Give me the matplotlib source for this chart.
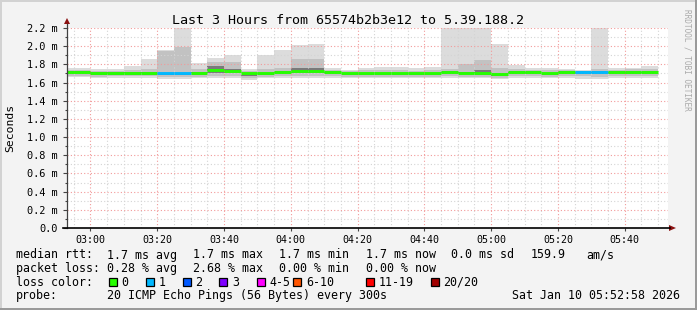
import numpy as np
import pandas as pd
import matplotlib
matplotlib.use("Agg")
import matplotlib.pyplot as plt
import matplotlib.dates as mdates
from matplotlib.ticker import MultipleLocator, FuncFormatter
from matplotlib.patches import Rectangle, Polygon
from matplotlib.lines import Line2D

# SmokePing 风格的延迟图：每 5 分钟一根"烟雾"柱 + 按丢包数着色的中位数线

# 每个 5 分钟区间的结束时间
slot_end = pd.date_range("2026-01-10 03:00", "2026-01-10 05:50", freq="5min")

# 单位：毫秒
median_rtt = [1.72, 1.71, 1.71, 1.71, 1.71, 1.70, 1.70, 1.71, 1.74, 1.73, 1.70, 1.70,
              1.72, 1.73, 1.73, 1.72, 1.70, 1.70, 1.70, 1.70, 1.70, 1.70, 1.72, 1.71,
              1.70, 1.69, 1.72, 1.72, 1.70, 1.72, 1.72, 1.72, 1.72, 1.72, 1.72]
ping_min = [1.66, 1.65, 1.65, 1.65, 1.65, 1.64, 1.64, 1.65, 1.65, 1.65, 1.63, 1.65,
            1.65, 1.65, 1.65, 1.65, 1.65, 1.65, 1.65, 1.65, 1.65, 1.65, 1.65, 1.65,
            1.65, 1.64, 1.65, 1.65, 1.65, 1.65, 1.64, 1.64, 1.65, 1.65, 1.65]
ping_q1 = [1.67, 1.66, 1.67, 1.67, 1.67, 1.66, 1.66, 1.66, 1.67, 1.67, 1.65, 1.66,
           1.67, 1.67, 1.67, 1.67, 1.66, 1.66, 1.66, 1.66, 1.66, 1.66, 1.67, 1.66,
           1.66, 1.65, 1.67, 1.67, 1.66, 1.67, 1.67, 1.66, 1.67, 1.67, 1.67]
core_lo = [1.69, 1.68, 1.68, 1.68, 1.68, 1.68, 1.68, 1.68, 1.70, 1.70, 1.67, 1.68,
           1.69, 1.70, 1.70, 1.69, 1.68, 1.68, 1.68, 1.68, 1.68, 1.68, 1.69, 1.69,
           1.68, 1.67, 1.69, 1.69, 1.68, 1.69, 1.69, 1.69, 1.69, 1.69, 1.69]
core_hi = [1.73, 1.72, 1.72, 1.72, 1.72, 1.71, 1.71, 1.72, 1.78, 1.75, 1.71, 1.71,
           1.73, 1.76, 1.76, 1.73, 1.71, 1.71, 1.71, 1.71, 1.71, 1.71, 1.73, 1.72,
           1.74, 1.70, 1.73, 1.73, 1.71, 1.73, 1.73, 1.73, 1.73, 1.73, 1.73]
ping_q3 = [1.74, 1.73, 1.73, 1.74, 1.75, 1.95, 1.99, 1.75, 1.83, 1.83, 1.73, 1.75,
           1.76, 1.86, 1.86, 1.74, 1.73, 1.74, 1.74, 1.74, 1.73, 1.74, 1.75, 1.80,
           1.85, 1.76, 1.75, 1.74, 1.74, 1.74, 1.73, 1.75, 1.74, 1.75, 1.75]
ping_max = [1.76, 1.75, 1.75, 1.78, 1.86, 1.96, 2.35, 1.81, 1.87, 1.90, 1.75, 1.90,
            1.96, 2.01, 2.02, 1.76, 1.74, 1.76, 1.77, 1.77, 1.76, 1.77, 2.35, 2.35,
            2.35, 2.02, 1.79, 1.76, 1.76, 1.75, 1.74, 2.35, 1.76, 1.76, 1.78]
lost_pings = [0, 0, 0, 0, 0, 1, 1, 0, 0, 0, 0, 0, 0, 0, 0, 0, 0, 0,
              0, 0, 0, 0, 0, 0, 0, 0, 0, 0, 0, 0, 1, 1, 0, 0, 0]

loss_labels = ["0", "1", "2", "3", "4-5", "6-10", "11-19", "20/20"]
loss_colors = ["#26ff00", "#00b8ff", "#0059ff", "#7e00ff",
               "#ff00ff", "#ff5500", "#ff0000", "#a10000"]

rtt_stats = ["1.7 ms avg", "1.7 ms max", "1.7 ms min", "1.7 ms now", "0.0 ms sd", "159.9", "am/s"]
loss_stats = ["0.28 % avg", "2.68 % max", "0.00 % min", "0.00 % now"]
probe_text = "20 ICMP Echo Pings (56 Bytes) every 300s"
stamp_text = "Sat Jan 10 05:52:58 2026"
title_text = "Last 3 Hours from 65574b2b3e12 to 5.39.188.2"


def loss_bucket(n):
    # 丢包数 -> 图例颜色序号
    if n <= 3:
        return n
    if n <= 5:
        return 4
    if n <= 10:
        return 5
    if n <= 19:
        return 6
    return 7


W, H = 697, 310
MONO = "DejaVu Sans Mono"


def fx(x):
    return x / W


def fy(y):
    return 1 - y / H


fig = plt.figure(figsize=(W / 100, H / 100), dpi=100, facecolor="#f3f3f3")
ax = fig.add_axes([fx(67), fy(228), 601 / W, 200 / H])
ax.set_facecolor("white")

t_end = pd.Timestamp("2026-01-10 05:52:58")
t_start = t_end - pd.Timedelta(hours=3)
xmin, xmax = mdates.date2num(t_start), mdates.date2num(t_end)

right = mdates.date2num(slot_end.to_pydatetime())
left = right - 5 / 1440.0
left[0] = xmin  # 第一根柱子从图的左边开始
width = right - left

lo = np.array(ping_min)
q1 = np.array(ping_q1)
c_lo = np.array(core_lo)
c_hi = np.array(core_hi)
q3 = np.array(ping_q3)
hi = np.array(ping_max)

# 烟雾：外层浅灰，中间灰，核心深灰
ax.bar(left, hi - lo, width=width, bottom=lo, align="edge", color="#dcdcdc", linewidth=0, zorder=1)
ax.bar(left, q3 - q1, width=width, bottom=q1, align="edge", color="#c2c2c2", linewidth=0, zorder=1.1)
ax.bar(left, c_hi - c_lo, width=width, bottom=c_lo, align="edge", color="#7a7a7a", linewidth=0, zorder=1.2)

line_cols = [loss_colors[loss_bucket(n)] for n in lost_pings]
ax.hlines(median_rtt, left, right, colors=line_cols, linewidth=2.1, zorder=4)

ax.set_xlim(xmin, xmax)
ax.set_ylim(0, 2.2)

ax.xaxis.set_major_locator(mdates.MinuteLocator(byminute=[0, 20, 40]))
ax.xaxis.set_minor_locator(mdates.MinuteLocator(byminute=range(0, 60, 5)))
ax.xaxis.set_major_formatter(mdates.DateFormatter("%H:%M"))
ax.yaxis.set_major_locator(MultipleLocator(0.2))
ax.yaxis.set_minor_locator(MultipleLocator(0.1))
ax.yaxis.set_major_formatter(FuncFormatter(lambda v, p: "0.0" if abs(v) < 1e-9 else "%.1f m" % v))

ax.set_axisbelow(False)
ax.grid(which="minor", color="#d4d4d4", linestyle=(0, (1, 2)), linewidth=0.8, zorder=2)
ax.grid(which="major", color="#f29a9a", linestyle=(0, (1, 2)), linewidth=0.8, zorder=2.1)

for s in ax.spines.values():
    s.set_visible(False)
ax.tick_params(axis="y", which="major", length=3, width=0.8, color="#444444", pad=4,
               labelsize=7.4, labelfontfamily=MONO)
ax.tick_params(axis="y", which="minor", length=1.5, width=0.8, color="#444444")
ax.tick_params(axis="x", which="major", length=2, width=0.8, color="#444444", pad=3,
               labelsize=7.2, labelfontfamily=MONO)
ax.tick_params(axis="x", which="minor", length=0)

# 坐标轴和箭头
fig.add_artist(Line2D([fx(67), fx(67)], [fy(228), fy(24)], color="#404040", linewidth=0.9))
fig.add_artist(Line2D([fx(63), fx(670)], [fy(228), fy(228)], color="#000000", linewidth=1.2))
fig.add_artist(Polygon([[fx(64), fy(24)], [fx(70), fy(24)], [fx(67), fy(18)]],
                       closed=True, color="#8b1010", linewidth=0))
fig.add_artist(Polygon([[fx(669), fy(225)], [fx(669), fy(231)], [fx(676), fy(228)]],
                       closed=True, color="#8b1010", linewidth=0))

# 外框阴影
fig.add_artist(Rectangle((0, 0), fx(2), 1, transform=fig.transFigure, color="#d2d2d2", linewidth=0))
fig.add_artist(Rectangle((0, 1 - 2 / H), 1, 2 / H, transform=fig.transFigure, color="#d2d2d2", linewidth=0))
fig.add_artist(Rectangle((1 - 2 / W, 0), 2 / W, 1, transform=fig.transFigure, color="#9a9a9a", linewidth=0))
fig.add_artist(Rectangle((0, 0), 1, 2 / H, transform=fig.transFigure, color="#9a9a9a", linewidth=0))

fig.text(fx(348), fy(20), title_text, ha="center", va="center", fontsize=9.6, family=MONO)
fig.text(fx(10), fy(128), "Seconds", rotation=90, ha="center", va="center", fontsize=8.2, family=MONO)
fig.text(fx(687), fy(60), "RRDTOOL / TOBI OETIKER", rotation=270, ha="center", va="center",
         fontsize=5.6, family=MONO, color="#aaaaaa")

# 图例
col_x = [107.3, 193.3, 279.3, 366, 451, 530.7, 586.7]
leg_fs = 8.4
row_y = [255, 268.5, 282.3, 295.7]

fig.text(fx(16), fy(row_y[0]), "median rtt:", va="center", fontsize=leg_fs, family=MONO)
for x, s in zip(col_x, rtt_stats):
    fig.text(fx(x), fy(row_y[0]), s, va="center", fontsize=leg_fs, family=MONO)

fig.text(fx(16), fy(row_y[1]), "packet loss:", va="center", fontsize=leg_fs, family=MONO)
for x, s in zip(col_x, loss_stats):
    fig.text(fx(x), fy(row_y[1]), s, va="center", fontsize=leg_fs, family=MONO)

fig.text(fx(16), fy(row_y[2]), "loss color:", va="center", fontsize=leg_fs, family=MONO)
box_x = [108.7, 145.7, 182.7, 219.3, 256.7, 293.3, 365.7, 430.7]
for x, lab, c in zip(box_x, loss_labels, loss_colors):
    fig.add_artist(Rectangle((fx(x), fy(row_y[2] + 4)), 8 / W, 8 / H, transform=fig.transFigure,
                             facecolor=c, edgecolor="black", linewidth=0.9))
    fig.text(fx(x + 12.8), fy(row_y[2]), lab, va="center", fontsize=leg_fs, family=MONO)

fig.text(fx(16), fy(row_y[3]), "probe:", va="center", fontsize=leg_fs, family=MONO)
fig.text(fx(107.3), fy(row_y[3]), probe_text, va="center", fontsize=leg_fs, family=MONO)
fig.text(fx(680), fy(row_y[3]), stamp_text, ha="right", va="center", fontsize=leg_fs, family=MONO)

fig.savefig("out.png", dpi=100, facecolor=fig.get_facecolor())
